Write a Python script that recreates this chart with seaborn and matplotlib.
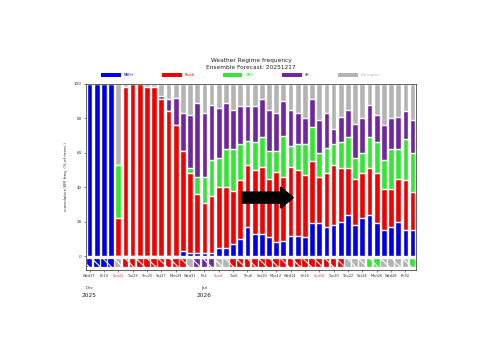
import numpy as np
import pandas as pd
import matplotlib
matplotlib.use("Agg")
import matplotlib.pyplot as plt
from matplotlib.patches import Patch
import seaborn as sns

# ensemble regime shares per day (% of members), 17 Dec 2025 .. 31 Jan 2026
days = pd.date_range("2025-12-17", periods=46, freq="D").strftime("%b%d").tolist()

nao_pos = [100, 100, 100, 100, 0, 0, 0, 0, 0, 0, 0, 0, 0, 3, 2, 2, 2, 2, 5, 5,
           7, 10, 17, 13, 13, 11, 8, 9, 12, 12, 11, 19, 19, 17, 18, 20, 24, 18, 22, 24,
           19, 15, 17, 20, 15, 15]
block = [0, 0, 0, 0, 22, 98, 100, 100, 98, 98, 91, 84, 76, 58, 46, 34, 29, 33, 35, 35,
         31, 34, 36, 37, 39, 34, 41, 37, 40, 38, 36, 36, 27, 31, 35, 31, 27, 27, 26, 27,
         29, 24, 22, 25, 29, 22]
nao_neg = [0, 0, 0, 0, 31, 0, 0, 0, 0, 0, 0, 0, 0, 0, 3, 10, 15, 21, 17, 22,
           24, 21, 14, 16, 17, 16, 12, 24, 12, 15, 18, 20, 14, 15, 12, 15, 18, 12, 12, 18,
           18, 17, 23, 17, 24, 23]
ridge = [0, 0, 0, 0, 0, 0, 0, 0, 0, 0, 2, 7, 16, 22, 31, 43, 37, 32, 29, 27,
         23, 22, 20, 21, 22, 24, 22, 20, 21, 18, 15, 16, 19, 20, 9, 15, 16, 20, 20, 19,
         16, 20, 18, 19, 16, 19]

# regime shown in the strip below zero
strip = (["NAO+"] * 4 + ["No regime"] + ["Block"] * 9 + ["No regime"] + ["AR"] * 3
         + ["No regime"] * 2 + ["Block"] * 16 + ["No regime"] * 3 + ["NAO-"] * 2
         + ["No regime"] * 4 + ["NAO-"])

regimes = ["NAO+", "Block", "NAO-", "AR", "No regime"]
colors = {"NAO+": "#0000e6", "Block": "#f00000", "NAO-": "#33e633",
          "AR": "#7026a0", "No regime": "#b4b4b4"}

tick_labels = ["Wed17", "Fri19", "Sun21", "Tue23", "Thu25", "Sat27", "Mon29", "Wed31",
               "Fri2", "Sun4", "Tue6", "Thu8", "Sat10", "Mon12", "Wed14", "Fri16",
               "Sun18", "Tue20", "Thu22", "Sat24", "Mon26", "Wed28", "Fri30"]

sns.set_theme(style="ticks")
plt.rcParams["font.family"] = ["DejaVu Sans"]
plt.rcParams["hatch.linewidth"] = 0.8

fig, ax = plt.subplots(figsize=(4.8, 3.6), dpi=100)
fig.subplots_adjust(left=0.179, right=0.867, bottom=0.25, top=0.767)

# cumulative tops, drawn from the total downwards so lower regimes overlay
tops = np.cumsum([nao_pos, block, nao_neg, ridge], axis=0)
layers = [("No regime", np.full(len(days), 100))] + [
    (name, tops[i]) for i, name in reversed(list(enumerate(regimes[:4])))]
for name, vals in layers:
    sns.barplot(x=days, y=vals, color=colors[name], saturation=1, width=0.8,
                errorbar=None, ax=ax, order=days)

# hatched regime strip under the zero line
xpos = np.arange(len(days))
ax.bar(xpos, 4.6, bottom=-6, width=0.8, color=[colors[r] for r in strip],
       edgecolor="white", linewidth=0.2, hatch="\\" * 3)

# arrow annotation
ax.arrow(21.3, 34.0, 7.1, 0, width=6.4, head_width=12.2, head_length=1.8,
         length_includes_head=True, color="black")

ax.set_xlim(-0.5, len(days) - 0.5)
ax.set_ylim(-8, 100)
ax.set_yticks([0, 20, 40, 60, 80, 100])
ax.tick_params(axis="y", labelsize=3, length=1.5, width=0.4, pad=1.5)
ax.set_xticks(xpos[::2])
ax.set_xticklabels(tick_labels)
ax.tick_params(axis="x", labelsize=2.6, length=1.5, width=0.4, pad=1.5)
for lab in ax.get_xticklabels():
    if lab.get_text().startswith("Sun"):
        lab.set_color("#e04040")
    else:
        lab.set_color("#333333")
for lab in ax.get_yticklabels():
    lab.set_color("#333333")
for s in ax.spines.values():
    s.set_linewidth(0.5)

ax.set_xlabel("")
ax.set_ylabel("cumulative WR freq. (% of mem.)", fontsize=3, color="#333333", labelpad=4)

trans = ax.get_xaxis_transform()
for x, mon, yr in [(0, "Dec", "2025"), (16, "Jan", "2026")]:
    ax.text(x, -0.085, mon, transform=trans, fontsize=3, ha="center", va="top", color="#333333")
    ax.text(x, -0.125, yr, transform=trans, fontsize=4.2, ha="center", va="top", color="#222222")

ax.set_title("Weather Regime frequency\nEnsemble Forecast: 20251217", fontsize=4.2,
             pad=11, color="#222222", linespacing=1.3)

handles = [Patch(facecolor=colors[r], edgecolor="none") for r in regimes]
leg = fig.legend(handles, regimes, ncol=5, loc="center", bbox_to_anchor=(0.5, 0.792),
                 frameon=False, fontsize=2.5, handlelength=5.7, handleheight=1.3,
                 handletextpad=0.9, columnspacing=8)
for txt, r in zip(leg.get_texts(), regimes):
    txt.set_color(colors[r])

fig.savefig("out.png", dpi=100)
